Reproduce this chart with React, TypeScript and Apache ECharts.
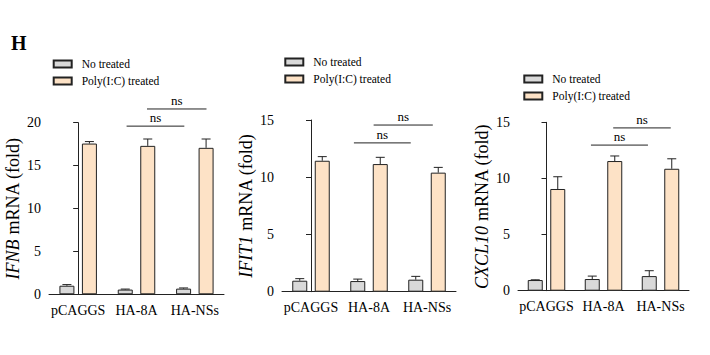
import React, { useEffect, useRef } from "react";
import * as echarts from "echarts";

const categories = ["pCAGGS", "HA-8A", "HA-NSs"];
const seriesNames = ["No treated", "Poly(I:C) treated"];

// Panel 1: IFNB
const ifnbNo = [1.0, 0.55, 0.66];
const ifnbNoErr = [0.13, 0.06, 0.08];
const ifnbPoly = [17.57, 17.3, 17.07];
const ifnbPolyErr = [0.23, 0.8, 1.03];
const ifnbTicks = { max: 20, interval: 5 };
const ifnbNs = [
  [0.83, 1.82, 19.6],
  [1.18, 2.2, 21.6],
];

// Panel 2: IFIT1
const ifit1No = [0.96, 0.93, 1.05];
const ifit1NoErr = [0.18, 0.17, 0.29];
const ifit1Poly = [11.44, 11.15, 10.4];
const ifit1PolyErr = [0.36, 0.59, 0.46];
const ifit1Ticks = { max: 15, interval: 5 };
const ifit1Ns = [
  [0.74, 1.72, 13.0],
  [1.08, 2.1, 14.56],
];

// Panel 3: CXCL10
const cxcl10No = [0.95, 1.04, 1.3];
const cxcl10NoErr = [0.02, 0.26, 0.48];
const cxcl10Poly = [9.06, 11.55, 10.86];
const cxcl10PolyErr = [1.09, 0.45, 0.89];
const cxcl10Ticks = { max: 15, interval: 5 };
const cxcl10Ns = [
  [0.78, 1.78, 12.97],
  [1.17, 2.18, 14.5],
];

const panels = [
  { gene: "IFNB", no: ifnbNo, noErr: ifnbNoErr, poly: ifnbPoly, polyErr: ifnbPolyErr, ticks: ifnbTicks, ns: ifnbNs,
    grid: { left: 49, width: 175, top: 122.7, height: 171.6 }, legend: { left: 52.7, top: 58 } },
  { gene: "IFIT1", no: ifit1No, noErr: ifit1NoErr, poly: ifit1Poly, polyErr: ifit1PolyErr, ticks: ifit1Ticks, ns: ifit1Ns,
    grid: { left: 282, width: 174, top: 120, height: 171.7 }, legend: { left: 284.3, top: 56 } },
  { gene: "CXCL10", no: cxcl10No, noErr: cxcl10NoErr, poly: cxcl10Poly, polyErr: cxcl10PolyErr, ticks: cxcl10Ticks, ns: cxcl10Ns,
    grid: { left: 518, width: 171, top: 122.3, height: 168.4 }, legend: { left: 523.3, top: 73 } },
];

const FONT = "'Liberation Serif', 'Times New Roman', serif";
const GREY = "#d9d9d9";
const ORANGE = "#fde2c6";
const EDGE = "#222";
const BAR_W = 15;
const BAR_OFF = 11.25;

export default function App() {
  const ref = useRef<HTMLDivElement>(null);
  useEffect(() => {
    if (!ref.current) return;
    const chart = echarts.init(ref.current, undefined, { renderer: "svg" });

    const grids: any[] = [];
    const xAxes: any[] = [];
    const yAxes: any[] = [];
    const legends: any[] = [];
    const series: any[] = [];

    panels.forEach((p, i) => {
      grids.push({ ...p.grid });
      xAxes.push({
        type: "category",
        gridIndex: i,
        data: categories,
        axisLine: { lineStyle: { color: EDGE, width: 1 } },
        axisTick: { alignWithLabel: true, length: 5, lineStyle: { color: EDGE } },
        axisLabel: { color: "#000", fontSize: 14, fontFamily: FONT, margin: 9, interval: 0 },
      });
      yAxes.push({
        type: "value",
        gridIndex: i,
        min: 0,
        max: p.ticks.max,
        interval: p.ticks.interval,
        splitLine: { show: false },
        axisLine: { show: true, lineStyle: { color: EDGE, width: 1 } },
        axisTick: { show: true, length: 5, lineStyle: { color: EDGE } },
        axisLabel: { color: "#000", fontSize: 14, fontFamily: FONT, margin: 8 },
        name: `{i|${p.gene}} mRNA (fold)`,
        nameLocation: "middle",
        nameGap: 27,
        nameTextStyle: {
          color: "#000",
          fontSize: 18,
          fontFamily: FONT,
          rich: { i: { fontStyle: "italic", fontSize: 18, fontFamily: FONT, color: "#000" } },
        },
      });
      legends.push({
        data: seriesNames,
        orient: "vertical",
        left: p.legend.left,
        top: p.legend.top,
        padding: 0,
        itemWidth: 18,
        itemHeight: 7,
        itemGap: 5,
        icon: "rect",
        selectedMode: false,
        textStyle: { color: "#000", fontSize: 11.5, fontFamily: FONT, padding: [0, 0, 0, 5] },
      });
    });

    // hidden value x-axes for bracket placement
    panels.forEach((p, i) => {
      xAxes.push({ type: "value", gridIndex: i, min: -0.5, max: 2.5, show: false });
    });

    panels.forEach((p, i) => {
      const groups = [
        { name: seriesNames[0], vals: p.no, errs: p.noErr, color: GREY, off: -BAR_OFF },
        { name: seriesNames[1], vals: p.poly, errs: p.polyErr, color: ORANGE, off: BAR_OFF },
      ];
      groups.forEach((g) => {
        series.push({
          type: "bar",
          name: g.name,
          xAxisIndex: i,
          yAxisIndex: i,
          data: g.vals,
          barWidth: BAR_W,
          barGap: "50%",
          itemStyle: { color: g.color, borderColor: EDGE, borderWidth: 1 },
        });
      });
      groups.forEach((g) => {
        series.push({
          type: "custom",
          xAxisIndex: i,
          yAxisIndex: i,
          silent: true,
          z: 3,
          data: g.vals.map((v, k) => [k, v, g.errs[k]]),
          renderItem: (params: any, api: any) => {
            const base = api.coord([api.value(0), api.value(1)]);
            const top = api.coord([api.value(0), api.value(1) + api.value(2)]);
            const x = base[0] + g.off;
            return {
              type: "group",
              children: [
                { type: "line", shape: { x1: x, y1: base[1], x2: x, y2: top[1] }, style: { stroke: EDGE, lineWidth: 1 } },
                { type: "line", shape: { x1: x - 4.5, y1: top[1], x2: x + 4.5, y2: top[1] }, style: { stroke: EDGE, lineWidth: 1 } },
              ],
            };
          },
        });
      });
      series.push({
        type: "custom",
        xAxisIndex: 3 + i,
        yAxisIndex: i,
        silent: true,
        clip: false,
        data: p.ns,
        renderItem: (params: any, api: any) => {
          const a = api.coord([api.value(0), api.value(2)]);
          const b = api.coord([api.value(1), api.value(2)]);
          return {
            type: "group",
            children: [
              { type: "line", shape: { x1: a[0], y1: a[1], x2: b[0], y2: b[1] }, style: { stroke: EDGE, lineWidth: 1 } },
              {
                type: "text",
                style: {
                  text: "ns",
                  x: (a[0] + b[0]) / 2,
                  y: a[1] - 2,
                  align: "center",
                  verticalAlign: "bottom",
                  fill: "#000",
                  font: `13px ${FONT}`,
                },
              },
            ],
          };
        },
      });
    });

    chart.setOption({
      animation: false,
      backgroundColor: "#fff",
      grid: grids,
      xAxis: xAxes,
      yAxis: yAxes,
      legend: legends,
      series,
      graphic: [
        {
          type: "text",
          left: 11,
          top: 33,
          style: { text: "H", fill: "#000", font: `bold 20px ${FONT}` },
        },
      ],
    });
    return () => chart.dispose();
  }, []);
  return (
    <div
      ref={ref}
      style={{ position: "fixed", left: 0, top: 0, width: 710, height: 355, background: "#fff" }}
    />
  );
}
